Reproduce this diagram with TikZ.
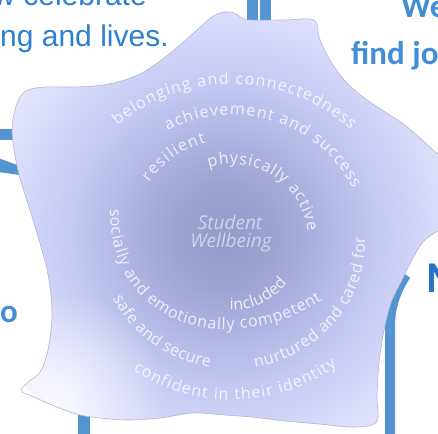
\documentclass[tikz,border=0pt]{standalone}
\usepackage{fontspec}
\setmainfont{Open Sans}
\newfontfamily\arialf{Liberation Sans}
\newfontfamily\calf{Carlito}
\usetikzlibrary{decorations.text,fadings}

\definecolor{bluetxt}{RGB}{45,128,206}
\definecolor{bluebar}{RGB}{84,148,210}
\definecolor{bluehead}{RGB}{66,142,214}
\definecolor{bluem}{RGB}{38,116,200}
\definecolor{cdark}{RGB}{150,154,200}
\definecolor{cmidA}{RGB}{158,162,208}
\definecolor{cmidB}{RGB}{175,180,226}
\definecolor{cmidC}{RGB}{195,200,242}
\definecolor{cmidD}{RGB}{212,215,250}
\definecolor{cedge}{RGB}{228,230,253}
\definecolor{centertxt}{RGB}{208,211,240}
\definecolor{blobline}{RGB}{180,182,205}

\pgfdeclareradialshading{blobshade}{\pgfpointorigin}{color(0bp)=(cdark); color(5bp)=(cmidA); color(10bp)=(cmidB); color(15bp)=(cmidC); color(20bp)=(cmidD); color(25bp)=(cedge); color(50bp)=(cedge)}
\tikzfading[name=softglow, inner color=transparent!0, outer color=transparent!100]

\newcommand\ringfont{\fontsize{16bp}{19bp}\selectfont\color{white}}

\tikzset{
  ringtext/.style={decorate, decoration={text along path, text align={fit to path}, text={|\ringfont|#1}}},
  headA/.style={inner sep=0pt, text=bluetxt, font=\arialf\fontsize{30bp}{36bp}\selectfont},
  headB/.style={inner sep=0pt, text=bluehead, font=\calf\bfseries\fontsize{33bp}{40bp}\selectfont},
  centerlbl/.style={inner sep=0pt, anchor=base, text=centertxt, font=\itshape\fontsize{19bp}{22bp}\selectfont},
  barfill/.style={fill=bluebar},
}

\begin{document}
\begin{tikzpicture}[x=1bp,y=-1bp]
\useasboundingbox (0,0) rectangle (438,434);
\clip (0,0) rectangle (438,434);
\fill[white] (0,0) rectangle (438,434);

% headings behind
\node[headA, anchor=base east] (h1) at (147,6) {w celebrate};
\node[headA, anchor=base west] (h2) at (0,47) {ng and lives.};
\node[headB, anchor=base west] (h3) at (401,18) {We};
\node[headB, anchor=base west] (h4) at (351,65) {find joy};
\node[headB, anchor=base east] (h6) at (18,322) {to};
\node[inner sep=0pt, anchor=base west, text=bluem, font=\calf\bfseries\fontsize{44bp}{50bp}\selectfont] (h5) at (426,292) {M};

% blue bars
\path[barfill] (247,-2) rectangle (258,25);
\path[barfill] (260,-2) rectangle (271,25);
\path[barfill] (-2,129) rectangle (20,140);
\path[barfill] (-2,158) -- (20,166) -- (20,175) -- (-2,172) -- cycle;
\path[barfill] (78,405) rectangle (90,440);
\draw[bluebar, line width=10bp] (406,275) .. controls (397,289) and (390,305) .. (390,326) -- (390,440);

% blob
\begin{scope}
\clip plot[smooth cycle, tension=0.55] coordinates {(14,150) (12,128) (15,110) (20,97) (28,90) (45,87) (70,87) (95,86) (118,82) (140,74) (160,61) (180,45) (197,30) (212,17) (224,12) (234,13) (242,18) (250,20) (285,20) (314,20) (319,37) (326,53) (335,68) (347,83) (363,97) (382,110) (402,123) (419,137) (433,150) (450,165) (460,200) (450,226) (436,232) (423,242) (413,258) (402,280) (391,303) (384,330) (379,363) (377,397) (378,417) (372,425) (350,427) (319,424) (286,421) (252,417) (225,415) (193,413) (160,418) (127,420) (100,418) (80,415) (62,409) (45,402) (32,396) (21,391) (28,382) (40,372) (48,350) (52,317) (50,287) (46,265) (39,240) (30,210) (20,178)};
\shade[shading=blobshade] (225,235) circle (250);
\fill[white, opacity=0.8, path fading=softglow] (55,400) circle (110);
\end{scope}
\draw[blobline, line width=0.6bp] plot[smooth cycle, tension=0.55] coordinates {(14,150) (12,128) (15,110) (20,97) (28,90) (45,87) (70,87) (95,86) (118,82) (140,74) (160,61) (180,45) (197,30) (212,17) (224,12) (234,13) (242,18) (250,20) (285,20) (314,20) (319,37) (326,53) (335,68) (347,83) (363,97) (382,110) (402,123) (419,137) (433,150) (450,165) (460,200) (450,226) (436,232) (423,242) (413,258) (402,280) (391,303) (384,330) (379,363) (377,397) (378,417) (372,425) (350,427) (319,424) (286,421) (252,417) (225,415) (193,413) (160,418) (127,420) (100,418) (80,415) (62,409) (45,402) (32,396) (21,391) (28,382) (40,372) (48,350) (52,317) (50,287) (46,265) (39,240) (30,210) (20,178)};

% ring texts
\begin{scope}[opacity=0.8]
\path[ringtext={belonging and connectedness}] ([shift={(232,242)}]-132.6:169 and 158) arc[start angle=-132.6, end angle=-45.4, x radius=169, y radius=158];
\path[ringtext={confident in their identity}] ([shift={(232,242)}]-234.2:169 and 158) arc[start angle=-234.2, end angle=-308.3, x radius=169, y radius=158];
\path[ringtext={achievement and success}] ([shift={(232,242)}]-118.9:133 and 127) arc[start angle=-118.9, end angle=-24.9, x radius=133, y radius=127];
\path[ringtext={safe and secure}] ([shift={(232,242)}]-206.5:133 and 127) arc[start angle=-206.5, end angle=-260.5, x radius=133, y radius=127];
\path[ringtext={nurtured and cared for}] ([shift={(232,242)}]-280:133 and 127) arc[start angle=-280, end angle=-362.3, x radius=133, y radius=127];
\path[ringtext={resilient}] ([shift={(232,240)}]-145:101) arc[start angle=-145, end angle=-105, radius=101];
\coordinate (sa) at (110,209);
\coordinate (sb) at (170,317);
\coordinate (sc) at (322,300);
\path[ringtext={socially and emotionally competent}] (sa) .. controls (110,260) and (130,295) .. (sb) .. controls (205,336) and (270,335) .. (sc);
\path[ringtext={physically active}] ([shift={(232,240)}]-107.7:76) arc[start angle=-107.7, end angle=-6.8, radius=76];
\path[ringtext={included}] ([shift={(232,240)}]-268:70) arc[start angle=-268, end angle=-322, radius=70];
\end{scope}

\node[centerlbl] (st) at (230,229) {Student};
\node[centerlbl] (wb) at (231,247) {Wellbeing};
\end{tikzpicture}
\end{document}
